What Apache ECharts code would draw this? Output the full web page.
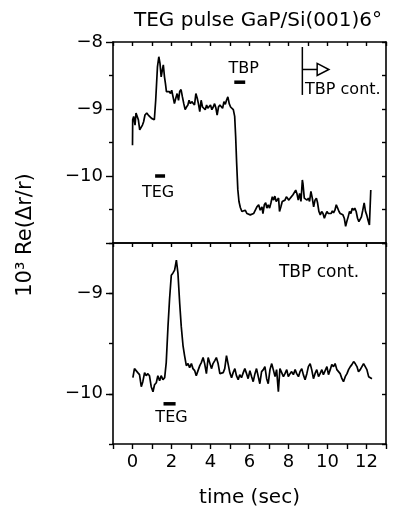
<!DOCTYPE html>
<html><head><meta charset="utf-8">
<script src="https://cdn.jsdelivr.net/npm/echarts@6/dist/echarts.min.js"></script>
<style>html,body{margin:0;padding:0;background:#fff}#c{width:393px;height:512px}</style>
</head><body><div id="c"></div>
<script>
const titleText = 'TEG pulse GaP/Si(001)6°';
const xName = 'time (sec)';
const yName = '10³ Re(Δr/r)';
const xTickLabels = [0, 2, 4, 6, 8, 10, 12];
const topYTickLabels = [-8, -9, -10];
const bottomYTickLabels = [-9, -10];

// top panel: TEG pulse, then TBP switched to continuous
const topSignal = [
[0.00,-9.54],[0.01,-9.16],[0.06,-9.11],[0.13,-9.24],[0.18,-9.06],[0.23,-9.04],[0.30,-9.16],[0.37,-9.31],[0.44,-9.29],[0.51,-9.24],
[0.57,-9.19],[0.64,-9.09],[0.73,-9.06],[0.81,-9.09],[0.90,-9.11],[0.98,-9.14],[1.12,-9.16],[1.19,-8.87],[1.28,-8.37],[1.35,-8.22],
[1.41,-8.32],[1.47,-8.52],[1.53,-8.42],[1.58,-8.34],[1.64,-8.52],[1.69,-8.62],[1.74,-8.74],[1.81,-8.72],[1.88,-8.74],[1.95,-8.77],
[2.01,-8.72],[2.08,-8.82],[2.15,-8.92],[2.22,-8.84],[2.29,-8.77],[2.36,-8.87],[2.42,-8.74],[2.49,-8.71],[2.56,-8.82],[2.63,-8.92],
[2.70,-9.01],[2.77,-8.97],[2.84,-8.94],[2.90,-8.87],[2.97,-8.92],[3.04,-8.89],[3.11,-8.87],[3.18,-8.94],[3.25,-8.77],[3.32,-8.84],
[3.38,-8.92],[3.45,-9.04],[3.52,-8.87],[3.59,-8.97],[3.66,-8.99],[3.73,-9.01],[3.80,-8.94],[3.86,-8.99],[3.93,-8.97],[4.00,-8.94],
[4.07,-9.01],[4.14,-8.97],[4.21,-8.92],[4.28,-8.99],[4.34,-9.09],[4.41,-8.97],[4.48,-8.94],[4.55,-8.94],[4.62,-8.99],[4.69,-8.89],
[4.76,-8.93],[4.82,-8.87],[4.89,-8.82],[4.96,-8.92],[5.03,-8.97],[5.10,-8.99],[5.17,-9.01],[5.24,-9.11],[5.29,-9.41],[5.34,-9.80],
[5.40,-10.20],[5.46,-10.38],[5.53,-10.47],[5.61,-10.53],[5.70,-10.53],[5.78,-10.51],[5.87,-10.56],[5.95,-10.54],[6.04,-10.58],[6.12,-10.59],
[6.21,-10.56],[6.30,-10.54],[6.38,-10.46],[6.47,-10.43],[6.55,-10.51],[6.64,-10.46],[6.69,-10.56],[6.76,-10.43],[6.83,-10.40],[6.89,-10.48],
[6.96,-10.43],[7.03,-10.48],[7.10,-10.40],[7.17,-10.31],[7.24,-10.36],[7.30,-10.30],[7.37,-10.38],[7.44,-10.40],[7.49,-10.33],[7.54,-10.53],
[7.61,-10.46],[7.68,-10.38],[7.75,-10.40],[7.82,-10.36],[7.89,-10.31],[7.96,-10.33],[8.02,-10.36],[8.09,-10.33],[8.16,-10.31],[8.23,-10.28],
[8.30,-10.26],[8.37,-10.21],[8.43,-10.26],[8.50,-10.36],[8.57,-10.26],[8.64,-10.38],[8.71,-10.06],[8.74,-10.11],[8.81,-10.33],[8.88,-10.31],
[8.95,-10.36],[9.02,-10.33],[9.08,-10.38],[9.15,-10.23],[9.22,-10.33],[9.29,-10.46],[9.36,-10.36],[9.43,-10.33],[9.49,-10.40],[9.56,-10.53],
[9.63,-10.58],[9.70,-10.53],[9.77,-10.56],[9.84,-10.63],[9.90,-10.58],[9.97,-10.53],[10.04,-10.56],[10.11,-10.54],[10.18,-10.56],[10.25,-10.52],
[10.31,-10.55],[10.38,-10.51],[10.45,-10.43],[10.52,-10.48],[10.59,-10.53],[10.65,-10.56],[10.72,-10.54],[10.79,-10.58],[10.86,-10.63],[10.93,-10.75],
[10.99,-10.68],[11.06,-10.61],[11.13,-10.53],[11.20,-10.56],[11.27,-10.48],[11.33,-10.51],[11.40,-10.48],[11.47,-10.53],[11.54,-10.63],[11.61,-10.68],
[11.67,-10.66],[11.74,-10.61],[11.81,-10.51],[11.88,-10.40],[11.95,-10.53],[12.01,-10.58],[12.08,-10.66],[12.15,-10.73],[12.22,-10.21]
];

// bottom panel: TEG pulse under continuous TBP
const bottomSignal = [
[0.02,-9.84],[0.10,-9.75],[0.19,-9.76],[0.27,-9.79],[0.36,-9.81],[0.45,-9.93],[0.53,-9.88],[0.62,-9.79],[0.70,-9.82],[0.79,-9.80],
[0.87,-9.82],[0.96,-9.93],[1.05,-9.98],[1.13,-9.91],[1.22,-9.89],[1.30,-9.82],[1.39,-9.87],[1.47,-9.82],[1.56,-9.86],[1.65,-9.84],
[1.73,-9.69],[1.82,-9.33],[1.90,-9.06],[1.99,-8.82],[2.07,-8.80],[2.16,-8.77],[2.25,-8.67],[2.33,-8.80],[2.42,-9.10],[2.50,-9.33],
[2.59,-9.52],[2.67,-9.62],[2.76,-9.72],[2.85,-9.70],[2.93,-9.74],[3.02,-9.70],[3.10,-9.75],[3.19,-9.77],[3.27,-9.82],[3.36,-9.77],
[3.45,-9.72],[3.53,-9.69],[3.62,-9.64],[3.70,-9.70],[3.79,-9.80],[3.88,-9.64],[3.96,-9.65],[4.05,-9.75],[4.13,-9.70],[4.22,-9.67],
[4.30,-9.64],[4.39,-9.70],[4.48,-9.80],[4.56,-9.79],[4.65,-9.79],[4.73,-9.75],[4.82,-9.62],[4.90,-9.70],[4.99,-9.79],[5.08,-9.84],
[5.16,-9.79],[5.25,-9.75],[5.33,-9.82],[5.42,-9.86],[5.50,-9.81],[5.59,-9.84],[5.68,-9.79],[5.76,-9.75],[5.85,-9.80],[5.93,-9.85],
[6.02,-9.77],[6.11,-9.83],[6.19,-9.88],[6.28,-9.80],[6.36,-9.75],[6.45,-9.83],[6.53,-9.90],[6.62,-9.78],[6.71,-9.76],[6.79,-9.73],
[6.88,-9.85],[6.96,-9.90],[7.05,-9.76],[7.14,-9.70],[7.22,-9.76],[7.31,-9.83],[7.39,-9.76],[7.48,-9.98],[7.56,-9.75],[7.65,-9.76],
[7.74,-9.83],[7.82,-9.80],[7.91,-9.76],[7.99,-9.83],[8.08,-9.80],[8.16,-9.78],[8.25,-9.81],[8.34,-9.76],[8.42,-9.80],[8.51,-9.83],
[8.59,-9.78],[8.68,-9.75],[8.76,-9.81],[8.85,-9.86],[8.94,-9.80],[9.02,-9.73],[9.11,-9.70],[9.19,-9.76],[9.28,-9.85],[9.36,-9.80],
[9.45,-9.76],[9.54,-9.83],[9.62,-9.80],[9.71,-9.76],[9.79,-9.81],[9.88,-9.80],[9.97,-9.73],[10.05,-9.81],[10.14,-9.76],[10.22,-9.71],
[10.31,-9.73],[10.39,-9.70],[10.48,-9.76],[10.57,-9.75],[10.65,-9.80],[10.74,-9.85],[10.82,-9.88],[10.91,-9.83],[11.00,-9.80],[11.08,-9.76],
[11.17,-9.73],[11.25,-9.71],[11.34,-9.68],[11.42,-9.70],[11.51,-9.73],[11.59,-9.78],[11.68,-9.76],[11.76,-9.75],[11.85,-9.70],[11.94,-9.71],
[12.02,-9.76],[12.11,-9.83],[12.19,-9.83],[12.28,-9.85]
];

// annotations (data coordinates)
const tegBarTop = [[1.16,-10.0],[1.67,-10.0]];
const tegLabelTop = [1.31,-10.25];
const tbpBarTop = [[5.22,-8.60],[5.78,-8.60]];
const tbpLabelTop = [5.70,-8.40];
const contStemTop = [[8.71,-8.075],[8.71,-8.79]];
const contShaftTop = [[8.71,-8.41],[9.47,-8.41]];
const contHeadTop = [[9.47,-8.32],[10.07,-8.41],[9.47,-8.50]];
const contLabelTop = [8.85,-8.72];
const contLabelBottom = [7.51,-8.79];
const tegBarBottom = [[1.59,-10.10],[2.21,-10.10]];
const tegLabelBottom = [2.0,-10.24];

const FONT = 'DejaVu Sans';
const INK = '#000';
const axisLine = { show: true, onZero: false, lineStyle: { color: INK, width: 1.6 } };
const fmtNum = v => (v < 0 ? '\u2212' : '') + Math.abs(v);

const chart = echarts.init(document.getElementById('c'), null, { renderer: 'canvas' });

const baseX = { type: 'value', min: -1, max: 13, interval: 1, splitLine: { show: false }, axisLine: axisLine };
const option = {
  animation: false,
  backgroundColor: '#fff',
  grid: [
    { left: 113, right: 7, top: 42, height: 201 },
    { left: 113, right: 7, top: 243, height: 201 }
  ],
  xAxis: [
    Object.assign({}, baseX, { gridIndex: 0, position: 'bottom', axisTick: { show: false }, axisLabel: { show: false } }),
    Object.assign({}, baseX, { gridIndex: 0, position: 'top', axisTick: { show: true, inside: true, length: 4, lineStyle: { color: INK, width: 1.4 } }, axisLabel: { show: false } }),
    Object.assign({}, baseX, { gridIndex: 1, position: 'bottom',
      axisTick: { show: true, inside: false, length: 5, lineStyle: { color: INK, width: 1.4 } },
      axisLabel: { show: true, color: INK, fontFamily: FONT, fontSize: 18, margin: 9,
        formatter: v => xTickLabels.indexOf(v) >= 0 ? String(v) : '' },
      name: xName, nameLocation: 'middle', nameGap: 44,
      nameTextStyle: { color: INK, fontFamily: FONT, fontSize: 20 } }),
    Object.assign({}, baseX, { gridIndex: 1, position: 'top', axisTick: { show: true, inside: true, length: 4, lineStyle: { color: INK, width: 1.4 } }, axisLabel: { show: false } })
  ],
  yAxis: [
    { type: 'value', gridIndex: 0, position: 'left', min: -11, max: -8, interval: 1, splitLine: { show: false }, axisLine: axisLine,
      axisTick: { show: true, inside: false, length: 7, lineStyle: { color: INK, width: 1.4 } },
      minorTick: { show: true, splitNumber: 2, length: 4, lineStyle: { color: INK, width: 1.4 } },
      axisLabel: { show: true, color: INK, fontFamily: FONT, fontSize: 18, margin: 10, showMaxLabel: true,
        formatter: v => topYTickLabels.indexOf(v) >= 0 ? fmtNum(v) : '' } },
    { type: 'value', gridIndex: 0, position: 'right', min: -11, max: -8, interval: 0.5, splitLine: { show: false }, axisLine: axisLine,
      axisTick: { show: true, inside: true, length: 4, lineStyle: { color: INK, width: 1.4 } }, axisLabel: { show: false } },
    { type: 'value', gridIndex: 1, position: 'left', min: -10.5, max: -8.5, interval: 0.5, splitLine: { show: false }, axisLine: axisLine,
      axisTick: { show: true, inside: false, length: 4, lineStyle: { color: INK, width: 1.4 } },
      axisLabel: { show: true, color: INK, fontFamily: FONT, fontSize: 18, margin: 10,
        formatter: v => bottomYTickLabels.indexOf(v) >= 0 ? fmtNum(v) : '' } },
    { type: 'value', gridIndex: 1, position: 'right', min: -10.5, max: -8.5, interval: 0.5, splitLine: { show: false }, axisLine: axisLine,
      axisTick: { show: true, inside: true, length: 4, lineStyle: { color: INK, width: 1.4 } }, axisLabel: { show: false } },
    { type: 'value', gridIndex: 1, position: 'left', min: -10.5, max: -8.5, interval: 0.5, splitLine: { show: false },
      axisLine: { show: false, onZero: false },
      axisTick: { show: true, inside: false, length: 7, customValues: bottomYTickLabels, lineStyle: { color: INK, width: 1.4 } },
      axisLabel: { show: false } }
  ],
  series: [
    { type: 'line', xAxisIndex: 0, yAxisIndex: 0, data: topSignal, showSymbol: false, symbol: 'none',
      lineStyle: { color: INK, width: 1.7 }, silent: true },
    { type: 'line', xAxisIndex: 2, yAxisIndex: 2, data: bottomSignal, showSymbol: false, symbol: 'none',
      lineStyle: { color: INK, width: 1.7 }, silent: true }
  ]
};
chart.setOption(option);

const p = (g, pt) => chart.convertToPixel({ gridIndex: g }, pt);
const seg = (g, pts, w) => {
  const a = p(g, pts[0]), b = p(g, pts[1]);
  return { type: 'line', shape: { x1: a[0], y1: a[1], x2: b[0], y2: b[1] }, style: { stroke: INK, lineWidth: w }, z: 100 };
};
const txt = (g, pt, s, align, size) => {
  const a = p(g, pt);
  return { type: 'text', x: a[0], y: a[1], style: { text: s, fill: INK, font: size + 'px "' + FONT + '"', align: align, verticalAlign: 'middle' }, z: 100 };
};
const headPts = contHeadTop.map(pt => p(0, pt));

chart.setOption({
  graphic: [
    { type: 'text', x: 258, y: 21, style: { text: titleText, fill: INK, font: '20px "' + FONT + '"', align: 'center', verticalAlign: 'middle' } },
    { type: 'text', x: 26, y: 235, rotation: Math.PI / 2, style: { text: yName, fill: INK, font: '21px "' + FONT + '"', align: 'center', verticalAlign: 'middle' } },
    seg(0, tegBarTop, 3.5),
    txt(0, tegLabelTop, 'TEG', 'center', 16),
    seg(0, tbpBarTop, 3.5),
    txt(0, tbpLabelTop, 'TBP', 'center', 16),
    seg(0, contStemTop, 1.5),
    seg(0, contShaftTop, 1.5),
    { type: 'polygon', shape: { points: headPts }, style: { fill: '#fff', stroke: INK, lineWidth: 1.5 }, z: 100 },
    txt(0, contLabelTop, 'TBP cont.', 'left', 16),
    txt(1, contLabelBottom, 'TBP cont.', 'left', 17),
    seg(1, tegBarBottom, 3.5),
    txt(1, tegLabelBottom, 'TEG', 'center', 16)
  ]
});
</script></body></html>
